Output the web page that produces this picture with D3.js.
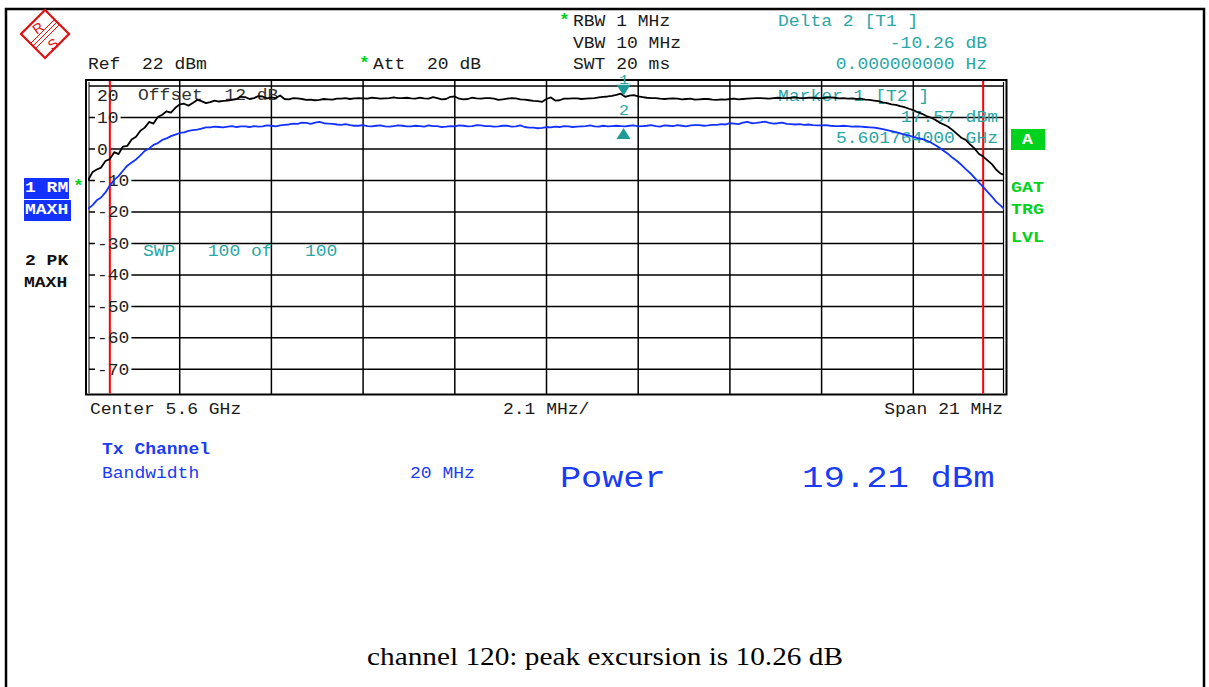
<!DOCTYPE html>
<html><head><meta charset="utf-8">
<script src="https://cdn.jsdelivr.net/npm/d3@7"></script>
<style>body{margin:0;background:#fff}svg{display:block}text{white-space:pre}</style>
</head><body>
<script>
// ---- data ----
const centerGHz = 5.6, spanMHz = 21, refLevel = 22, dbPerDiv = 10, nDiv = 10;
const sweepStartMHz = -10.5, sweepStepMHz = 0.1;
// trace 2 (PK MAXH, black), dBm, one value per 0.1 MHz
const blackTrace = [
 -10,-7.4,-6.5,-5.9,-3.8,-3.2,-1.0,-1.6,0.8,1.0,
 3.0,3.9,5.8,6.8,8.6,8.1,10.2,10.9,12.0,11.6,
 13.1,14.2,14.4,13.8,14.6,15.6,15.2,14.6,14.9,15.4,
 15.1,15.3,15.4,15.6,15.9,16.6,16.5,15.9,16.2,16.8,
 16.7,16.1,16.4,16.2,17.0,15.9,15.8,16.2,16.1,15.9,
 15.6,15.7,15.5,15.6,15.9,15.8,15.7,16.0,16.0,16.2,
 15.9,16.1,16.2,16.1,16.0,16.3,16.2,16.0,16.1,16.2,
 16.4,16.2,16.2,16.3,16.1,16.0,16.3,16.1,16.0,16.5,
 16.2,15.8,15.9,16.6,16.7,16.0,15.8,15.9,16.3,16.1,
 16.0,16.2,16.2,16.0,15.6,15.8,16.0,16.2,16.1,15.8,
 15.7,15.5,15.3,15.2,15.0,15.9,16.4,15.4,15.5,16.0,
 16.0,16.1,16.1,15.9,16.0,16.1,16.2,16.4,16.6,16.7,
 16.9,17.2,17.57,16.6,17.0,17.1,16.7,16.5,16.3,16.2,
 16.2,16.0,15.9,16.0,16.1,16.0,15.8,15.9,16.0,15.7,
 15.8,15.9,15.9,15.7,15.6,15.8,15.7,15.9,16.0,15.8,
 15.9,16.0,16.1,16.2,16.2,16.1,16.0,16.2,16.3,16.2,
 16.2,16.3,16.4,16.2,16.2,16.3,16.3,16.2,16.2,16.3,
 16.4,16.3,16.1,16.2,16.0,16.1,15.9,16.0,15.7,15.6,
 15.4,15.2,14.8,14.6,14.2,14.0,13.6,13.3,12.8,12.4,
 11.7,11.2,10.5,10.0,9.3,8.4,7.8,7.1,6.0,4.8,
 3.6,2.9,1.5,0.2,-1.5,-2.4,-3.6,-4.8,-6.6,-7.8,
 -8.3];
// trace 1 (RM MAXH, blue), dBm, one value per 0.1 MHz
const blueTrace = [
 -19.0,-17.9,-16.3,-15.4,-13.8,-11.6,-9.8,-8.6,-6.9,-5.3,
 -4.3,-3.3,-2.0,-0.6,0.2,1.3,1.9,2.9,3.4,4.1,
 4.6,5.1,5.3,5.8,6.0,6.2,6.5,6.9,6.9,7.1,
 7.0,6.9,7.1,7.3,7.0,7.2,7.2,7.0,7.3,7.1,
 7.2,7.5,7.4,7.2,7.5,7.7,7.8,8.1,8.0,8.4,
 8.3,8.0,8.4,8.6,8.2,8.1,8.0,7.8,7.7,7.9,
 7.6,7.4,7.4,7.6,7.3,7.2,7.4,7.5,7.2,7.1,
 7.3,7.5,7.4,7.2,7.2,7.4,7.3,7.1,7.5,7.3,
 7.3,7.0,7.1,7.3,7.2,7.5,7.4,7.2,7.3,7.6,
 7.5,7.3,7.3,7.1,7.2,7.4,7.4,7.1,7.2,7.5,
 7.0,6.8,6.8,6.6,6.7,7.0,6.9,7.1,7.0,7.3,
 7.2,7.0,7.1,7.2,7.3,7.5,7.2,7.1,7.4,7.2,
 7.3,7.4,7.31,7.2,7.4,7.5,7.2,7.3,7.4,7.6,
 7.3,7.1,7.5,7.4,7.3,7.6,7.4,7.2,7.5,7.6,
 7.6,7.4,7.5,7.7,7.7,7.9,7.8,8.2,8.1,7.9,
 8.4,8.6,8.2,8.3,8.5,8.7,8.3,8.1,8.2,8.4,
 8.0,7.9,7.8,7.9,7.7,7.8,7.6,7.5,7.5,7.6,
 7.4,7.3,7.3,7.4,7.3,7.1,7.2,7.1,7.0,6.9,
 6.8,6.6,6.3,6.0,5.7,5.4,5.0,4.6,4.3,3.9,
 3.5,3.2,2.7,2.1,1.3,0.4,-0.6,-1.6,-2.8,-3.8,
 -5.0,-6.4,-7.6,-9.1,-10.6,-12.0,-13.6,-15.1,-16.8,-18.0,
 -19.3];
const yTickValues = [20,10,0,-10,-20,-30,-40,-50,-60,-70];
const yTickLabels = ["20","10","0","-10","-20","-30","-40","-50","-60","-70"];
const channelLimitsMHz = [-10, 10];
const markers = [
  {id:"1", offMHz:1.764, val:17.57, dir:"down"},
  {id:"2", offMHz:1.764, val:7.31, dir:"up"}
];

// ---- drawing ----
const W = 1209, H = 687;
const svg = d3.select("body").append("svg").attr("width", W).attr("height", H);
const TEAL = "#2aa6a6", GREEN = "#00d21e", BLUE = "#1432ff", TBLUE = "#1a3cf5";

const x = d3.scaleLinear().domain([-spanMHz/2, spanMHz/2]).range([88, 1005]);
const y = d3.scaleLinear().domain([refLevel - dbPerDiv*nDiv, refLevel]).range([394.5, 79.8]);

function T(px, py, s, o = {}) {
  const cw = o.cw || 10.8, fs = o.fs || 16;
  const len = s.length * cw;
  const x0 = o.end ? px - len : px;
  return svg.append("text").attr("x", x0).attr("y", py)
    .attr("font-family", o.family || "'Liberation Mono', monospace")
    .attr("font-size", fs).attr("font-weight", o.bold ? "bold" : "normal")
    .attr("fill", o.fill || "#1a1a1a")
    .attr("textLength", len).attr("lengthAdjust", "spacingAndGlyphs")
    .text(s);
}

// page border
svg.append("rect").attr("x", 6).attr("y", 9).attr("width", 1198).attr("height", 720)
  .attr("fill", "none").attr("stroke", "#000").attr("stroke-width", 2.5);

// R&S logo
const logo = svg.append("g").attr("transform", "translate(45,34)");
logo.append("rect").attr("x", -17).attr("y", -17).attr("width", 34).attr("height", 34)
  .attr("transform", "rotate(45)").attr("fill", "none").attr("stroke", "#e01010").attr("stroke-width", 2.2);
[-2.5, 0, 2.5].forEach(d => {
  logo.append("line").attr("x1", -12 + d).attr("y1", 12 + d).attr("x2", 12 + d).attr("y2", -12 + d)
    .attr("stroke", "#e01010").attr("stroke-width", 1);
});
logo.append("text").attr("x", -7).attr("y", -1).attr("font-family", "'Liberation Sans', sans-serif")
  .attr("font-size", 14).attr("fill", "#e01010").attr("text-anchor", "middle")
  .attr("transform", "rotate(-35,-7,-6)").text("R");
logo.append("text").attr("x", 8).attr("y", 15).attr("font-family", "'Liberation Sans', sans-serif")
  .attr("font-size", 14).attr("fill", "#e01010").attr("text-anchor", "middle")
  .attr("transform", "rotate(-35,8,10)").text("S");

// header text
T(573, 26, "RBW 1 MHz");
T(573, 48, "VBW 10 MHz");
T(573, 68.5, "SWT 20 ms");
T(88, 69, "Ref  22 dBm");
T(373, 69, "Att  20 dB");
T(559, 25, "*", {fill: GREEN, bold: true});
T(359, 68, "*", {fill: GREEN, bold: true});
T(778, 26, "Delta 2 [T1 ]", {fill: TEAL});
T(987, 48, "-10.26 dB", {fill: TEAL, end: true});
T(987, 69, "0.000000000 Hz", {fill: TEAL, end: true});

// plot frame
const plot = svg.append("g");
plot.append("rect").attr("x", 86).attr("y", 80).attr("width", 920.5).attr("height", 314.5)
  .attr("fill", "none").attr("stroke", "#000").attr("stroke-width", 2);
plot.append("line").attr("x1", 89).attr("x2", 89).attr("y1", 82).attr("y2", 393).attr("stroke", "#000").attr("stroke-width", 1);
plot.append("line").attr("x1", 1003.5).attr("x2", 1003.5).attr("y1", 82).attr("y2", 393).attr("stroke", "#000").attr("stroke-width", 1.2);

// horizontal grid
yTickValues.forEach(v => {
  plot.append("line").attr("x1", 89).attr("x2", 1003.5).attr("y1", y(v)).attr("y2", y(v))
    .attr("stroke", "#000").attr("stroke-width", 1.5);
});
// vertical grid
const vGrid = d3.range(1, 10).map(k => -spanMHz/2 + k * spanMHz/10);
vGrid.forEach(f => {
  plot.append("line").attr("x1", x(f)).attr("x2", x(f)).attr("y1", 80).attr("y2", 394.5)
    .attr("stroke", "#000").attr("stroke-width", 1.5);
});

// y tick labels
yTickValues.forEach((v, i) => {
  const s = yTickLabels[i];
  const cw = 10.8;
  const yy = i === 0 ? 101 : y(v) + 5.5;
  if (i !== 0) {
    plot.append("rect").attr("x", 95).attr("y", y(v) - 2).attr("width", s.length * cw + 4).attr("height", 4).attr("fill", "#fff");
  }
  T(97, yy, s, {fill: "#222"});
});

// channel limit lines
channelLimitsMHz.forEach(f => {
  plot.append("line").attr("x1", x(f)).attr("x2", x(f)).attr("y1", 81).attr("y2", 393.5)
    .attr("stroke", "#ff0000").attr("stroke-width", 2);
});

// in-plot texts
T(138, 100, "Offset  12 dB", {fill: "#333"});
T(143, 256, "SWP   100 of   100", {fill: TEAL});
T(778, 101, "Marker 1 [T2 ]", {fill: TEAL});
T(998, 122, "17.57 dBm", {fill: TEAL, end: true});
T(998, 143, "5.601764000 GHz", {fill: TEAL, end: true});

// traces
svg.append("clipPath").attr("id", "pc").append("rect")
  .attr("x", 88).attr("y", 81).attr("width", 916).attr("height", 312);
const line = d3.line().x((d, i) => x(sweepStartMHz + i * sweepStepMHz)).y(d => y(d));
svg.append("path").datum(blueTrace).attr("d", line).attr("fill", "none")
  .attr("stroke", BLUE).attr("stroke-width", 1.8).attr("stroke-linejoin", "round").attr("clip-path", "url(#pc)");
svg.append("path").datum(blackTrace).attr("d", line).attr("fill", "none")
  .attr("stroke", "#000").attr("stroke-width", 1.8).attr("stroke-linejoin", "round").attr("clip-path", "url(#pc)");

// markers
markers.forEach(m => {
  const mx = x(m.offMHz), my = y(m.val);
  let pts;
  if (m.dir === "down") {
    pts = [[mx - 7, my - 9], [mx + 7, my - 9], [mx, my + 2]];
    T(mx - 4.5, my - 9.8, m.id, {fill: TEAL, fs: 13, cw: 10});
  } else {
    pts = [[mx - 7, my + 13], [mx + 7, my + 13], [mx, my + 2]];
    T(mx - 4.5, my - 11, m.id, {fill: TEAL, fs: 14, cw: 10});
  }
  svg.append("path").attr("d", d3.line()(pts) + "Z").attr("fill", "#1e9a9a");
});

// left labels
svg.append("rect").attr("x", 24).attr("y", 178).attr("width", 45).attr("height", 21).attr("fill", BLUE);
svg.append("rect").attr("x", 24).attr("y", 200).attr("width", 47).attr("height", 21).attr("fill", BLUE);
T(25, 192, "1 RM", {fill: "#fff", bold: true, fs: 15});
T(25, 214, "MAXH", {fill: "#fff", bold: true, fs: 15});
T(73, 191, "*", {fill: GREEN, bold: true});
T(25, 265, "2 PK", {fill: "#111", bold: true, fs: 15});
T(24, 287, "MAXH", {fill: "#111", bold: true, fs: 15});

// right labels
svg.append("rect").attr("x", 1011).attr("y", 129).attr("width", 34).attr("height", 21).attr("fill", GREEN);
T(1022, 144, "A", {fill: "#fff", bold: true, fs: 15});
T(1011, 192, "GAT", {fill: GREEN, bold: true, fs: 15, cw: 11});
T(1011, 214, "TRG", {fill: GREEN, bold: true, fs: 15, cw: 11});
T(1011, 242, "LVL", {fill: GREEN, bold: true, fs: 15, cw: 11});

// bottom axis labels
T(90, 414, "Center 5.6 GHz");
T(503, 414, "2.1 MHz/");
T(1003, 414, "Span 21 MHz", {end: true});

// channel power results
T(102, 454, "Tx Channel", {fill: TBLUE, bold: true});
T(102, 478, "Bandwidth", {fill: TBLUE});
T(410, 478, "20 MHz", {fill: TBLUE});
T(560, 487, "Power", {fill: TBLUE, fs: 29, cw: 21.1});
T(802, 487, "19.21 dBm", {fill: TBLUE, fs: 29, cw: 21.4});

// caption
svg.append("text").attr("x", 367).attr("y", 665)
  .attr("font-family", "'Liberation Serif', 'Times New Roman', serif").attr("font-size", 26)
  .attr("textLength", 476).attr("lengthAdjust", "spacingAndGlyphs")
  .attr("fill", "#000").text("channel 120: peak excursion is 10.26 dB");
</script>
</body></html>
